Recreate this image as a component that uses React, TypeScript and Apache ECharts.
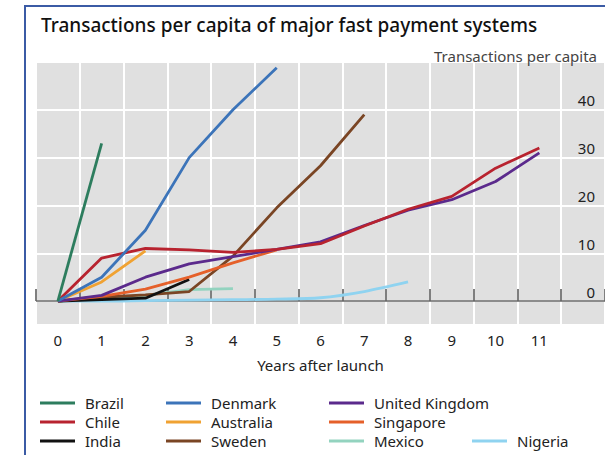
import React, { useEffect, useRef } from "react";
import * as echarts from "echarts";

const years = ["0", "1", "2", "3", "4", "5", "6", "7", "8", "9", "10", "11", ""];

const brazil = [0, 33];
const denmark = [0, 5, 14.8, 30, 40, 48.8];
const unitedKingdom = [0, 1.2, 5, 7.8, 9.3, 10.8, 12.4, 15.8, 19, 21.2, 25, 31];
const chile = [0, 9, 11, 10.7, 10.2, 10.8, 12, 15.7, 19.2, 21.9, 27.8, 32];
const australia = [0, 4, 10.5];
const singapore = [0, 1, 2.5, 5, 8, 10.7];
const india = [0, 0.3, 0.6, 4.5];
const sweden = [0, 0.8, 1.3, 2, 9.4, 19.5, 28.3, 39];
const mexico = [0, 0.5, 1.2, 2.4, 2.6];
const nigeria = [0, 0, 0.1, 0.2, 0.3, 0.4, 0.7, 2, 4];

const yTicks = [0, 10, 20, 30, 40];

const FONT = "Noto Sans";

const seriesDefs = [
  { name: "Nigeria", data: nigeria, color: "#8fd3f0", smooth: 0.3 },
  { name: "Mexico", data: mexico, color: "#93d3bf", smooth: false },
  { name: "Sweden", data: sweden, color: "#7a4524", smooth: false },
  { name: "India", data: india, color: "#111111", smooth: false },
  { name: "Singapore", data: singapore, color: "#e5602a", smooth: false },
  { name: "Australia", data: australia, color: "#f0a232", smooth: false },
  { name: "United Kingdom", data: unitedKingdom, color: "#5b2a8c", smooth: false },
  { name: "Chile", data: chile, color: "#b8232f", smooth: false },
  { name: "Denmark", data: denmark, color: "#3c74b9", smooth: false },
  { name: "Brazil", data: brazil, color: "#2d7d5e", smooth: false },
];

const legendCols = [
  { left: 40, items: ["Brazil", "Chile", "India"], top: 395 },
  { left: 166, items: ["Denmark", "Australia", "Sweden"], top: 395 },
  { left: 329, items: ["United Kingdom", "Singapore", "Mexico"], top: 395 },
  { left: 472, items: ["Nigeria"], top: 433 },
];

export default function App() {
  const ref = useRef<HTMLDivElement>(null);

  useEffect(() => {
    if (!ref.current) return;
    const chart = echarts.init(ref.current, null, { renderer: "svg" });
    const option: any = {
      animation: false,
      backgroundColor: "#ffffff",
      textStyle: { fontFamily: FONT },
      title: [
        {
          text: "Transactions per capita of major fast payment systems",
          left: 36,
          top: 10,
          textStyle: { fontFamily: FONT, fontSize: 19, fontWeight: 500, color: "#111" },
        },
        {
          text: "Transactions per capita",
          right: 3,
          top: 43,
          textStyle: { fontFamily: FONT, fontSize: 15, fontWeight: "normal", color: "#444" },
        },
      ],
      graphic: [
        {
          type: "rect",
          shape: { x: 35, y: 62, width: 580, height: 263 },
          style: { fill: "#e0e0e0" },
          silent: true,
          z: -10,
        },
        {
          type: "rect",
          shape: { x: 25, y: 6, width: 700, height: 600 },
          style: { fill: "none", stroke: "#3b5ba5", lineWidth: 2 },
          silent: true,
          z: 100,
        },
      ],
      legend: legendCols.map((c) => ({
        orient: "vertical",
        left: c.left,
        top: c.top,
        padding: 0,
        height: 80,
        data: c.items,
        icon: "rect",
        itemWidth: 35,
        itemHeight: 3,
        itemGap: 3,
        selectedMode: false,
        textStyle: {
          fontFamily: FONT,
          fontSize: 15,
          color: "#222",
          lineHeight: 16,
          padding: [0, 0, 0, 5],
        },
      })),
      grid: {
        left: 36,
        top: 62,
        width: 577,
        height: 263,
        show: false,
        containLabel: false,
      },
      xAxis: {
        type: "category",
        data: years,
        boundaryGap: true,
        axisLine: { show: false },
        axisTick: { show: true, inside: true, length: 12, lineStyle: { color: "#555", width: 1.5 } },
        axisLabel: { fontFamily: FONT, fontSize: 15, color: "#222", margin: 7 },
        splitLine: { show: true, lineStyle: { color: "#ffffff", width: 2 } },
        name: "Years after launch",
        nameLocation: "middle",
        nameGap: 32,
        nameTextStyle: { fontFamily: FONT, fontSize: 15, color: "#222" },
      },
      yAxis: {
        type: "value",
        position: "right",
        min: -5,
        max: 50,
        splitNumber: 5,
        axisLine: { show: false },
        axisTick: { show: false },
        axisLabel: {
          inside: true,
          margin: 10,
          fontFamily: FONT,
          fontSize: 15,
          color: "#222",
          verticalAlign: "bottom",
          lineHeight: 19,
          formatter: (v: number) => (yTicks.indexOf(v) >= 0 ? String(v) : ""),
        },
        splitLine: { show: true, lineStyle: { color: "#ffffff", width: 2 } },
      },
      series: seriesDefs.map((s, i) => ({
        name: s.name,
        type: "line",
        data: s.data,
        symbol: "none",
        smooth: s.smooth,
        color: s.color,
        lineStyle: { color: s.color, width: 2.8 },
        z: 3,
        ...(i === 0
          ? {
              markLine: {
                silent: true,
                symbol: "none",
                label: { show: false },
                lineStyle: { color: "#666666", width: 1.5, type: "solid" },
                data: [{ yAxis: 0 }],
                z: 1,
              },
            }
          : {}),
      })),
    };
    chart.setOption(option);
    return () => chart.dispose();
  }, []);

  return (
    <div
      ref={ref}
      style={{ position: "fixed", left: 0, top: 0, width: 605, height: 455 }}
    />
  );
}
